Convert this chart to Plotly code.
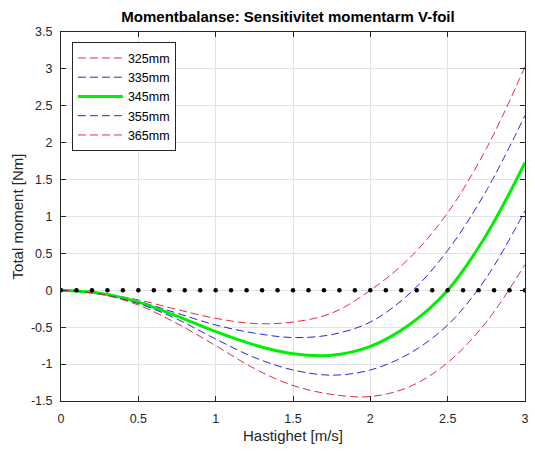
import numpy as np
import plotly.graph_objects as go

# Speed samples [m/s] and total moment [Nm] for each moment arm length
hastighet = [0.0, 0.25, 0.5, 0.75, 1.0, 1.25, 1.5, 1.75, 2.0, 2.25, 2.5, 2.75, 3.0]
moment_325 = [0.0, -0.04, -0.13, -0.26, -0.38, -0.45, -0.43, -0.31, 0.0, 0.43, 1.05, 1.92, 3.03]
moment_335 = [0.0, -0.04, -0.15, -0.31, -0.47, -0.58, -0.64, -0.60, -0.43, -0.05, 0.54, 1.35, 2.37]
moment_345 = [0.0, -0.04, -0.16, -0.35, -0.56, -0.74, -0.86, -0.88, -0.76, -0.47, 0.0, 0.75, 1.73]
moment_355 = [0.0, -0.05, -0.18, -0.39, -0.66, -0.91, -1.08, -1.15, -1.08, -0.86, -0.47, 0.17, 1.08]
moment_365 = [0.0, -0.05, -0.20, -0.45, -0.75, -1.06, -1.29, -1.41, -1.44, -1.31, -0.98, -0.43, 0.35]

series_names = ["325mm", "335mm", "345mm", "355mm", "365mm"]

# Equilibrium reference: zero moment sampled every 0.1 m/s
ref_speed = [round(0.1 * i, 1) for i in range(31)]
ref_moment = [0.0] * len(ref_speed)

x_ticks = [0, 0.5, 1, 1.5, 2, 2.5, 3]
x_tick_labels = ["0", "0.5", "1", "1.5", "2", "2.5", "3"]
y_ticks = [-1.5, -1, -0.5, 0, 0.5, 1, 1.5, 2, 2.5, 3, 3.5]
y_tick_labels = ["-1.5", "-1", "-0.5", "0", "0.5", "1", "1.5", "2", "2.5", "3", "3.5"]

RED = "rgb(226,44,66)"
BLUE = "rgb(40,40,220)"
GREEN = "rgb(0,240,0)"
AXIS = "#262626"
FONT = "Liberation Sans, Arial, Helvetica, sans-serif"

styles = [
    dict(color=RED, width=1, dash="8px,4px"),
    dict(color=BLUE, width=1, dash="8px,4px"),
    dict(color=GREEN, width=3),
    dict(color=BLUE, width=1, dash="8px,4px"),
    dict(color=RED, width=1, dash="8px,4px"),
]
values = [moment_325, moment_335, moment_345, moment_355, moment_365]

fig = go.Figure()
for name, vals, line in zip(series_names, values, styles):
    fig.add_trace(go.Scatter(
        x=hastighet, y=vals, name=name, mode="lines",
        line=dict(shape="spline", smoothing=1.0, **line),
    ))

fig.add_trace(go.Scatter(
    x=ref_speed, y=ref_moment, mode="markers", showlegend=False,
    marker=dict(color="black", size=4.5),
))

axis_common = dict(
    ticks="inside", ticklen=5, tickwidth=1, tickcolor=AXIS,
    mirror="allticks", showline=True, linecolor=AXIS, linewidth=1,
    showgrid=True, gridcolor="#e2e2e2", gridwidth=1, zeroline=False,
    tickfont=dict(family=FONT, size=12.5, color=AXIS),
)

fig.update_xaxes(
    range=[0, 3], tickvals=x_ticks, ticktext=x_tick_labels,
    ticklabelstandoff=6,
    title=dict(text="Hastighet [m/s]", font=dict(family=FONT, size=15, color=AXIS), standoff=5),
    **axis_common,
)
fig.update_yaxes(
    range=[-1.5, 3.5], tickvals=y_ticks, ticktext=y_tick_labels,
    ticklabelstandoff=5,
    title=dict(text="Total moment [Nm]", font=dict(family=FONT, size=15, color=AXIS), standoff=3),
    **axis_common,
)

fig.update_layout(
    width=535, height=455,
    margin=dict(l=61, r=6, t=32, b=54),
    paper_bgcolor="white", plot_bgcolor="white",
    title=dict(
        text="<b>Momentbalanse: Sensitivitet momentarm V-foil</b>",
        font=dict(family=FONT, size=15, color="black"),
        xref="container", x=288 / 535, xanchor="center",
        yref="container", y=1 - 17 / 455, yanchor="middle",
    ),
    legend=dict(
        x=0.0235, y=0.972, xanchor="left", yanchor="top",
        bgcolor="white", bordercolor=AXIS, borderwidth=1,
        font=dict(family=FONT, size=12.5, color="black"),
        itemwidth=45, tracegroupgap=0,
    ),
    showlegend=True,
)

fig.write_html("out.html")
